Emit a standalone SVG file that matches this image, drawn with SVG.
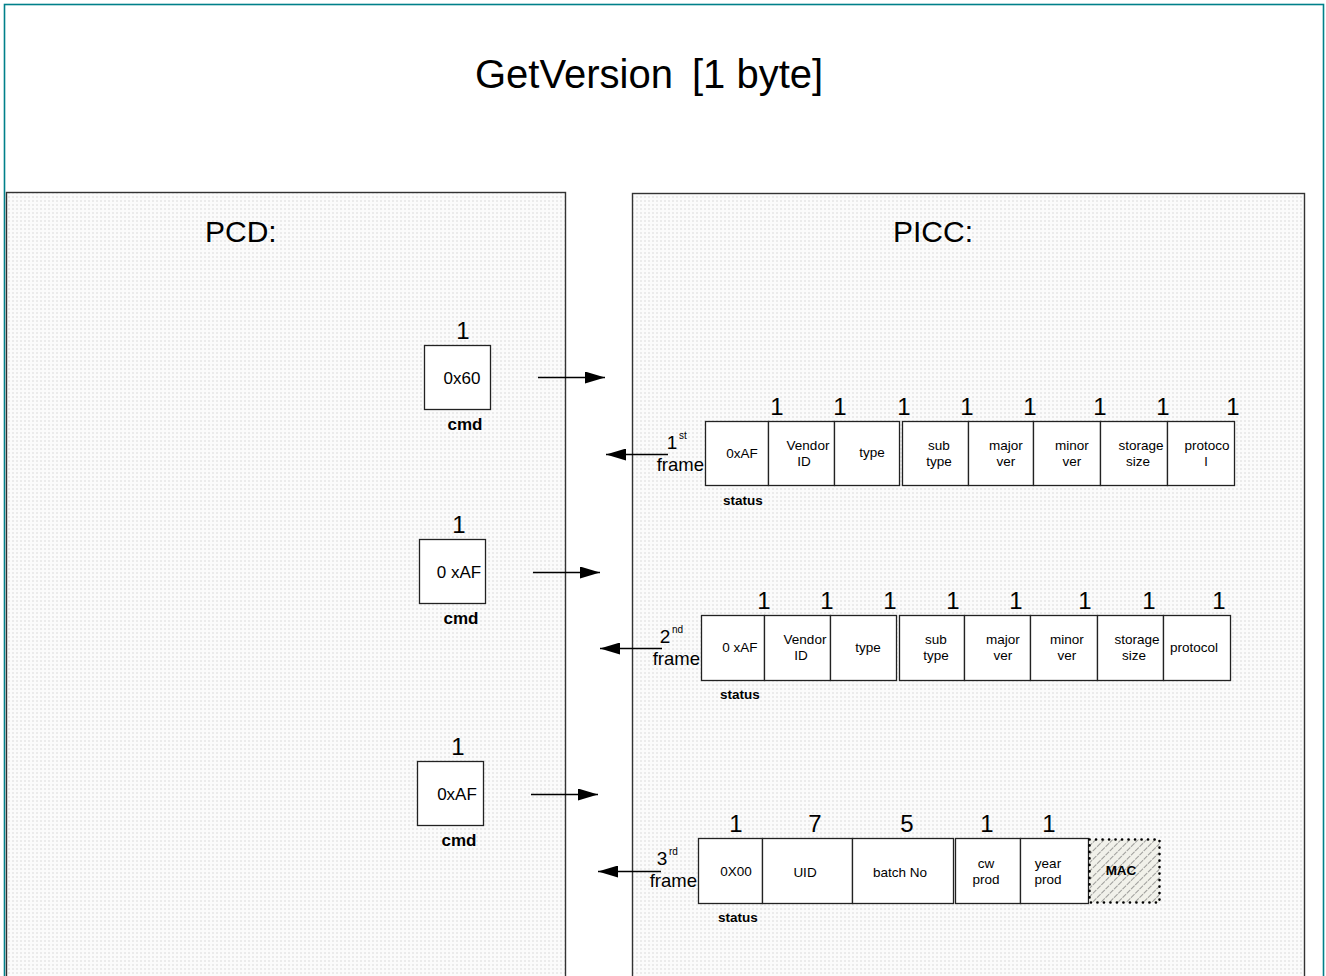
<svg xmlns="http://www.w3.org/2000/svg" width="1326" height="976" viewBox="0 0 1326 976">
  <defs>
    <pattern id="panelFill" width="4" height="4" patternUnits="userSpaceOnUse">
      <rect width="4" height="4" fill="#fbfbfb"/>
      <rect width="2" height="2" fill="#ebebeb"/>
    </pattern>
    <pattern id="hatch" width="6" height="6" patternUnits="userSpaceOnUse" patternTransform="rotate(45)">
      <rect width="6" height="6" fill="#f1f1ea"/>
      <line x1="0" y1="0" x2="0" y2="6" stroke="#555" stroke-width="1.1" stroke-dasharray="3 1"/>
    </pattern>
    <marker id="arrowHead" viewBox="0 0 20 12" refX="20" refY="6" markerWidth="20" markerHeight="12" markerUnits="userSpaceOnUse" orient="auto">
      <path d="M0,0 L20,6 L0,12 Z" fill="#000"/>
    </marker>
  </defs>
  <style>
    text { font-family: "Liberation Sans", Arial, sans-serif; fill: #000; }
    .title { font-size: 40px; }
    .side { font-size: 30px; }
    .num { font-size: 24px; text-anchor: middle; }
    .box { fill: #fff; stroke: #222; stroke-width: 1.3; }
    .panel { fill: url(#panelFill); stroke: #333; stroke-width: 1.4; }
    .cmdval { font-size: 17px; text-anchor: middle; }
    .cmd { font-size: 17px; font-weight: bold; text-anchor: middle; }
    .cell { font-size: 13.5px; text-anchor: middle; }
    .status { font-size: 13.5px; font-weight: bold; text-anchor: middle; }
    .ord { font-size: 19px; text-anchor: middle; }
    .sup { font-size: 10px; }
    .frame { font-size: 18.5px; text-anchor: end; }
    .conn { stroke: #000; stroke-width: 1.3; fill: none; marker-end: url(#arrowHead); }
    .mac { fill: url(#hatch); stroke: #000; stroke-width: 2.6; stroke-dasharray: 0.1 6.4; stroke-linecap: round; }
  </style>

  <!-- page frame -->
  <rect x="0" y="0" width="1326" height="976" fill="#fff"/>
  <rect x="4.5" y="4.5" width="1319" height="990" fill="none" stroke="#00808a" stroke-width="1.6"/>

  <text class="title" x="475" y="88">GetVersion<tspan x="692">[1 byte]</tspan></text>

  <!-- two sides of the exchange -->
  <g id="pcd-panel">
    <rect class="panel" x="6.5" y="192.5" width="559" height="800"/>
    <text class="side" x="205" y="242">PCD:</text>
  </g>
  <g id="picc-panel">
    <rect class="panel" x="632.5" y="193.5" width="672" height="800"/>
    <text class="side" x="893" y="242">PICC:</text>
  </g>

  <!-- PCD commands -->
  <g id="cmd-1">
    <text class="num" x="463" y="339">1</text>
    <rect class="box" x="424.5" y="345.5" width="66" height="64"/>
    <text class="cmdval" x="462" y="384">0x60</text>
    <text class="cmd" x="465" y="430">cmd</text>
  </g>
  <g id="cmd-2">
    <text class="num" x="459" y="533">1</text>
    <rect class="box" x="419.5" y="539.5" width="66" height="64"/>
    <text class="cmdval" x="459" y="578">0 xAF</text>
    <text class="cmd" x="461" y="624">cmd</text>
  </g>
  <g id="cmd-3">
    <text class="num" x="458" y="755">1</text>
    <rect class="box" x="417.5" y="761.5" width="66" height="64"/>
    <text class="cmdval" x="457" y="800">0xAF</text>
    <text class="cmd" x="459" y="846">cmd</text>
  </g>

  <!-- PICC responses: frame 1 -->
  <g id="frame-1">
    <text class="ord" x="672" y="449">1</text>
    <text class="sup" x="679" y="439">st</text>
    <text class="frame" x="704" y="471">frame</text>
    <g class="nums">
      <text class="num" x="777" y="415">1</text>
      <text class="num" x="840" y="415">1</text>
      <text class="num" x="904" y="415">1</text>
      <text class="num" x="967" y="415">1</text>
      <text class="num" x="1030" y="415">1</text>
      <text class="num" x="1100" y="415">1</text>
      <text class="num" x="1163" y="415">1</text>
      <text class="num" x="1233" y="415">1</text>
    </g>
    <rect class="box" x="705.5" y="421.5" width="63" height="64"/>
    <rect class="box" x="768.5" y="421.5" width="66" height="64"/>
    <rect class="box" x="834.5" y="421.5" width="65" height="64"/>
    <rect class="box" x="902.5" y="421.5" width="66" height="64"/>
    <rect class="box" x="968.5" y="421.5" width="65" height="64"/>
    <rect class="box" x="1033.5" y="421.5" width="67" height="64"/>
    <rect class="box" x="1100.5" y="421.5" width="67" height="64"/>
    <rect class="box" x="1167.5" y="421.5" width="67" height="64"/>
    <text class="cell" x="742" y="458">0xAF</text>
    <text class="cell" x="808" y="450">Vendor</text>
    <text class="cell" x="804" y="466">ID</text>
    <text class="cell" x="872" y="457">type</text>
    <text class="cell" x="939" y="450">sub</text>
    <text class="cell" x="939" y="466">type</text>
    <text class="cell" x="1006" y="450">major</text>
    <text class="cell" x="1006" y="466">ver</text>
    <text class="cell" x="1072" y="450">minor</text>
    <text class="cell" x="1072" y="466">ver</text>
    <text class="cell" x="1141" y="450">storage</text>
    <text class="cell" x="1138" y="466">size</text>
    <text class="cell" x="1207" y="450">protoco</text>
    <text class="cell" x="1206" y="466">l</text>
    <text class="status" x="743" y="505">status</text>
  </g>

  <!-- frame 2 -->
  <g id="frame-2">
    <text class="ord" x="665" y="643">2</text>
    <text class="sup" x="672" y="633">nd</text>
    <text class="frame" x="700" y="665">frame</text>
    <g class="nums">
      <text class="num" x="764" y="609">1</text>
      <text class="num" x="827" y="609">1</text>
      <text class="num" x="890" y="609">1</text>
      <text class="num" x="953" y="609">1</text>
      <text class="num" x="1016" y="609">1</text>
      <text class="num" x="1085" y="609">1</text>
      <text class="num" x="1149" y="609">1</text>
      <text class="num" x="1219" y="609">1</text>
    </g>
    <rect class="box" x="701.5" y="615.5" width="63" height="65"/>
    <rect class="box" x="764.5" y="615.5" width="66" height="65"/>
    <rect class="box" x="830.5" y="615.5" width="66" height="65"/>
    <rect class="box" x="899.5" y="615.5" width="65" height="65"/>
    <rect class="box" x="964.5" y="615.5" width="66" height="65"/>
    <rect class="box" x="1030.5" y="615.5" width="67" height="65"/>
    <rect class="box" x="1097.5" y="615.5" width="66" height="65"/>
    <rect class="box" x="1163.5" y="615.5" width="67" height="65"/>
    <text class="cell" x="740" y="652">0 xAF</text>
    <text class="cell" x="805" y="644">Vendor</text>
    <text class="cell" x="801" y="660">ID</text>
    <text class="cell" x="868" y="652">type</text>
    <text class="cell" x="936" y="644">sub</text>
    <text class="cell" x="936" y="660">type</text>
    <text class="cell" x="1003" y="644">major</text>
    <text class="cell" x="1003" y="660">ver</text>
    <text class="cell" x="1067" y="644">minor</text>
    <text class="cell" x="1067" y="660">ver</text>
    <text class="cell" x="1137" y="644">storage</text>
    <text class="cell" x="1134" y="660">size</text>
    <text class="cell" x="1194" y="652">protocol</text>
    <text class="status" x="740" y="699">status</text>
  </g>

  <!-- frame 3 -->
  <g id="frame-3">
    <text class="ord" x="662" y="865">3</text>
    <text class="sup" x="669" y="855">rd</text>
    <text class="frame" x="697" y="887">frame</text>
    <g class="nums">
      <text class="num" x="736" y="832">1</text>
      <text class="num" x="815" y="832">7</text>
      <text class="num" x="907" y="832">5</text>
      <text class="num" x="987" y="832">1</text>
      <text class="num" x="1049" y="832">1</text>
    </g>
    <rect class="box" x="698.5" y="838.5" width="64" height="65"/>
    <rect class="box" x="762.5" y="838.5" width="90" height="65"/>
    <rect class="box" x="852.5" y="838.5" width="101" height="65"/>
    <rect class="box" x="955.5" y="838.5" width="65" height="65"/>
    <rect class="box" x="1020.5" y="838.5" width="68" height="65"/>
    <rect class="mac" x="1089.5" y="839.5" width="70" height="63"/>
    <text class="cell" x="736" y="876">0X00</text>
    <text class="cell" x="805" y="877">UID</text>
    <text class="cell" x="900" y="877">batch No</text>
    <text class="cell" x="986" y="868">cw</text>
    <text class="cell" x="986" y="884">prod</text>
    <text class="cell" x="1048" y="868">year</text>
    <text class="cell" x="1048" y="884">prod</text>
    <text class="cell" x="1121" y="875" font-weight="bold" font-size="12.5">MAC</text>
    <text class="status" x="738" y="922">status</text>
  </g>

  <!-- message arrows -->
  <g id="connectors">
    <line class="conn" x1="538" y1="377.5" x2="605" y2="377.5"/>
    <line class="conn" x1="533" y1="572.5" x2="600" y2="572.5"/>
    <line class="conn" x1="531" y1="794.5" x2="598" y2="794.5"/>
    <line class="conn" x1="668" y1="454.5" x2="606" y2="454.5"/>
    <line class="conn" x1="662" y1="648.5" x2="600" y2="648.5"/>
    <line class="conn" x1="661" y1="871.5" x2="598" y2="871.5"/>
  </g>
</svg>
